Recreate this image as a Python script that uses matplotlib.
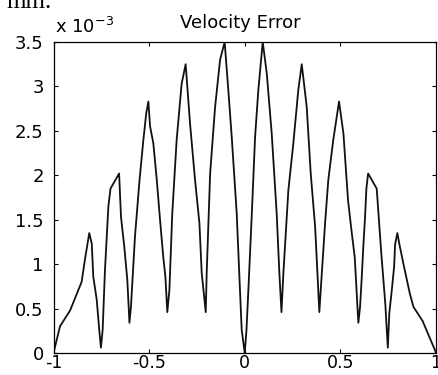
import matplotlib
matplotlib.use("Agg")
import matplotlib.pyplot as plt

# data (y in units of 1e-3)
x_vals = [-1.000, -0.966, -0.913, -0.853, -0.835, -0.813, -0.800, -0.792, -0.774, -0.760, -0.752,
          -0.743, -0.731, -0.713, -0.702, -0.657, -0.647, -0.630, -0.614, -0.607, -0.603,
          -0.595, -0.574, -0.550, -0.530, -0.515, -0.504, -0.495, -0.478, -0.460, -0.443, -0.426, -0.415, -0.405,
          -0.394, -0.379, -0.356, -0.330, -0.309, -0.286, -0.260, -0.237, -0.225, -0.204,
          -0.199, -0.181, -0.155, -0.129, -0.105, -0.086, -0.068, -0.042, -0.025, -0.016, 0.000,
          0.009, 0.019, 0.037, 0.054, 0.071, 0.094, 0.115, 0.141, 0.167, 0.181, 0.192,
          0.202, 0.228, 0.254, 0.280, 0.298, 0.324, 0.345, 0.368, 0.380, 0.390,
          0.403, 0.420, 0.437, 0.463, 0.493, 0.516, 0.540, 0.558, 0.575, 0.594,
          0.603, 0.612, 0.620, 0.629, 0.636, 0.645, 0.690, 0.714, 0.735, 0.748,
          0.756, 0.769, 0.781, 0.786, 0.798, 0.809, 0.829, 0.863, 0.882, 0.930, 0.995, 1.000]
y_vals = [0.00, 0.30, 0.48, 0.80, 1.06, 1.35, 1.23, 0.86, 0.60, 0.24, 0.06,
          0.26, 0.93, 1.65, 1.85, 2.02, 1.53, 1.20, 0.82, 0.52, 0.34,
          0.52, 1.31, 1.95, 2.40, 2.70, 2.83, 2.55, 2.36, 1.95, 1.50, 1.08, 0.86, 0.46,
          0.71, 1.57, 2.40, 3.03, 3.25, 2.58, 1.95, 1.46, 0.90, 0.46,
          0.90, 2.02, 2.77, 3.30, 3.50, 2.96, 2.43, 1.57, 0.71, 0.26, 0.00,
          0.26, 0.71, 1.57, 2.43, 2.96, 3.50, 3.15, 2.47, 1.57, 0.90, 0.46,
          0.90, 1.83, 2.36, 2.96, 3.25, 2.77, 2.02, 1.42, 0.90, 0.46,
          0.90, 1.46, 1.95, 2.40, 2.83, 2.47, 1.72, 1.38, 1.08, 0.34,
          0.52, 0.86, 1.20, 1.53, 1.85, 2.02, 1.85, 1.12, 0.55, 0.06,
          0.45, 0.71, 0.97, 1.22, 1.35, 1.22, 1.01, 0.67, 0.52, 0.36, 0.03, 0.00]

x_ticks = [-1, -0.5, 0, 0.5, 1]
x_ticklabels = ["-1", "-0.5", "0", "0.5", "1"]
y_ticks = [0, 0.5, 1, 1.5, 2, 2.5, 3, 3.5]
y_ticklabels = ["0", "0.5", "1", "1.5", "2", "2.5", "3", "3.5"]
title = "Velocity Error"

W, H = 438, 375
fig = plt.figure(figsize=(W / 100, H / 100), dpi=100)
plt.rcParams['font.family'] = ['DejaVu Sans']

ax = fig.add_axes([53.5 / W, 1 - 353 / H, (436 - 53.5) / W, (353 - 42) / H])
ax.plot(x_vals, y_vals, color='#111111', lw=1.3)
ax.set_xlim(-1, 1)
ax.set_ylim(0, 3.5)
ax.set_xticks(x_ticks)
ax.set_xticklabels(x_ticklabels)
ax.set_yticks(y_ticks)
ax.set_yticklabels(y_ticklabels)
ax.tick_params(direction='in', length=3, width=0.8, top=True, right=True,
               labelsize=13, colors='black')
ax.tick_params(axis='x', pad=1, labelsize=12.5)
ax.tick_params(axis='y', pad=7)
for s in ax.spines.values():
    s.set_linewidth(0.9)
    s.set_color('black')

fig.text(240.5 / W, 1 - 28 / H, title, ha='center', va='baseline', fontsize=13)
fig.text(55 / W, 1 - 33 / H, r"x 10$^{-3}$", ha='left', va='baseline', fontsize=13)
fig.text(52 / W, 1 - 8 / H, "mm.", ha='right', va='baseline', fontsize=18,
         family=['Liberation Serif'])

fig.savefig("out.png", dpi=100)
